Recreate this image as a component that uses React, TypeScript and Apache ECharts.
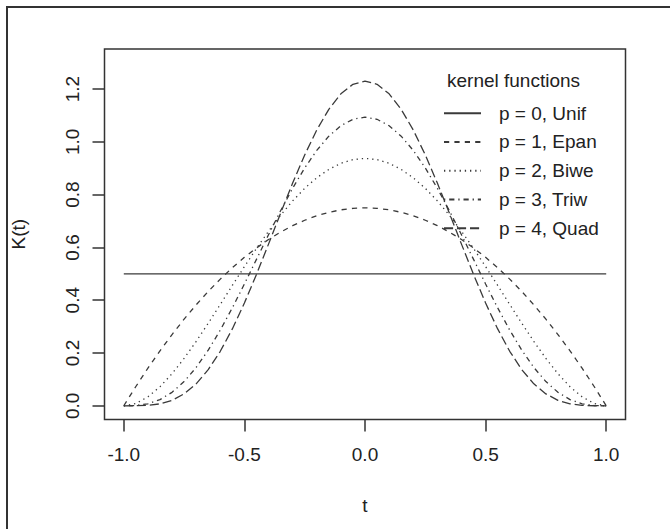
import React, { useEffect, useRef } from "react";
import * as echarts from "echarts";

// t grid (step 0.05 from -1 to 1)
const tValues = [
  -1, -0.95, -0.9, -0.85, -0.8, -0.75, -0.7, -0.65, -0.6, -0.55, -0.5,
  -0.45, -0.4, -0.35, -0.3, -0.25, -0.2, -0.15, -0.1, -0.05, 0,
  0.05, 0.1, 0.15, 0.2, 0.25, 0.3, 0.35, 0.4, 0.45, 0.5,
  0.55, 0.6, 0.65, 0.7, 0.75, 0.8, 0.85, 0.9, 0.95, 1,
];

// p = 0, uniform kernel (constant)
const unifT = [-1, 1];
const unifK = [0.5, 0.5];

// p = 1, Epanechnikov
const epanK = [
  0, 0.0731, 0.1425, 0.2081, 0.27, 0.3281, 0.3825, 0.4331, 0.48, 0.5231, 0.5625,
  0.5981, 0.63, 0.6581, 0.6825, 0.7031, 0.72, 0.7331, 0.7425, 0.7481, 0.75,
  0.7481, 0.7425, 0.7331, 0.72, 0.7031, 0.6825, 0.6581, 0.63, 0.5981, 0.5625,
  0.5231, 0.48, 0.4331, 0.3825, 0.3281, 0.27, 0.2081, 0.1425, 0.0731, 0,
];

// p = 2, biweight
const biweK = [
  0, 0.0089, 0.0338, 0.0722, 0.1215, 0.1794, 0.2438, 0.3127, 0.384, 0.4561, 0.5273,
  0.5963, 0.6615, 0.7219, 0.7763, 0.824, 0.864, 0.8958, 0.9188, 0.9328, 0.9375,
  0.9328, 0.9188, 0.8958, 0.864, 0.824, 0.7763, 0.7219, 0.6615, 0.5963, 0.5273,
  0.4561, 0.384, 0.3127, 0.2438, 0.1794, 0.1215, 0.0722, 0.0338, 0.0089, 0,
];

// p = 3, triweight
const triwK = [
  0, 0.001, 0.0075, 0.0234, 0.051, 0.0916, 0.1451, 0.2107, 0.2867, 0.3712, 0.4614,
  0.5548, 0.6483, 0.739, 0.8242, 0.9012, 0.9677, 1.0216, 1.0613, 1.0856, 1.0938,
  1.0856, 1.0613, 1.0216, 0.9677, 0.9012, 0.8242, 0.739, 0.6483, 0.5548, 0.4614,
  0.3712, 0.2867, 0.2107, 0.1451, 0.0916, 0.051, 0.0234, 0.0075, 0.001, 0,
];

// p = 4, quadweight
const quadK = [
  0, 0.0001, 0.0016, 0.0073, 0.0207, 0.0451, 0.0832, 0.1369, 0.2064, 0.2912, 0.3893,
  0.4977, 0.6126, 0.7296, 0.8438, 0.9505, 1.0451, 1.1234, 1.182, 1.2182, 1.2305,
  1.2182, 1.182, 1.1234, 1.0451, 0.9505, 0.8438, 0.7296, 0.6126, 0.4977, 0.3893,
  0.2912, 0.2064, 0.1369, 0.0832, 0.0451, 0.0207, 0.0073, 0.0016, 0.0001, 0,
];

const seriesNames = [
  "p = 0, Unif",
  "p = 1, Epan",
  "p = 2, Biwe",
  "p = 3, Triw",
  "p = 4, Quad",
];

const xTicks = [-1, -0.5, 0, 0.5, 1];
const yTicks = [0, 0.2, 0.4, 0.6, 0.8, 1.0, 1.2];

const FONT = "'Liberation Sans', Arial, sans-serif";
const INK = "#222";
const LINE = "#3a3a3a";

const zip = (xs: number[], ys: number[]) => xs.map((x, i) => [x, ys[i]]);

export default function App() {
  const ref = useRef<HTMLDivElement>(null);

  useEffect(() => {
    if (!ref.current) return;
    const chart = echarts.init(ref.current, undefined, { renderer: "svg" });

    const dashes: (number[] | "solid")[] = [
      "solid",
      [5.2, 5.2],
      [1.3, 3.9],
      [1.3, 3.9, 5.2, 3.9],
      [9.1, 3.9],
    ];
    const datas = [
      zip(unifT, unifK),
      zip(tValues, epanK),
      zip(tValues, biweK),
      zip(tValues, triwK),
      zip(tValues, quadK),
    ];

    chart.setOption({
      animation: false,
      backgroundColor: "#fff",
      textStyle: { fontFamily: FONT },
      grid: {
        left: 104.5,
        top: 49,
        width: 521,
        height: 370.5,
        show: true,
        borderColor: "#333",
        borderWidth: 1.5,
        backgroundColor: "transparent",
        containLabel: false,
      },
      title: {
        text: "kernel functions",
        left: 447,
        top: 70,
        padding: 0,
        textStyle: {
          fontFamily: FONT,
          fontSize: 19,
          fontWeight: "normal",
          color: INK,
          lineHeight: 21,
        },
      },
      legend: {
        orient: "vertical",
        left: 443,
        top: 103.7,
        padding: 0,
        itemWidth: 37,
        itemHeight: 14,
        itemGap: 9.75,
        selectedMode: false,
        data: seriesNames,
        itemStyle: { opacity: 0 },
        textStyle: {
          fontFamily: FONT,
          fontSize: 19,
          color: INK,
          lineHeight: 14,
          padding: [0, 0, 0, 13],
        },
      },
      xAxis: {
        type: "value",
        min: -1.08,
        max: 1.08,
        name: "t",
        nameLocation: "middle",
        nameGap: 76,
        nameTextStyle: { fontFamily: FONT, fontSize: 19, color: INK },
        axisLine: { show: false, onZero: false },
        splitLine: { show: false },
        axisTick: {
          show: true,
          length: 12,
          inside: false,
          customValues: xTicks,
          lineStyle: { color: "#333", width: 1.5 },
        },
        axisLabel: {
          customValues: xTicks,
          margin: 25,
          fontFamily: FONT,
          fontSize: 19,
          color: INK,
          formatter: (v: number) => v.toFixed(1),
        },
      },
      yAxis: {
        type: "value",
        min: -0.052,
        max: 1.352,
        name: "K(t)",
        nameLocation: "middle",
        nameGap: 77,
        nameTextStyle: { fontFamily: FONT, fontSize: 19, color: INK },
        axisLine: { show: false, onZero: false },
        splitLine: { show: false },
        axisTick: {
          show: true,
          length: 12,
          inside: false,
          customValues: yTicks,
          lineStyle: { color: "#333", width: 1.5 },
        },
        axisLabel: {
          customValues: yTicks,
          rotate: 90,
          margin: 23,
          fontFamily: FONT,
          fontSize: 19,
          color: INK,
          formatter: (v: number) => v.toFixed(1),
        },
      },
      graphic: [
        {
          type: "rect",
          shape: { x: 7, y: 7, width: 700, height: 600 },
          style: { fill: "none", stroke: "#333", lineWidth: 2 },
          silent: true,
        },
      ],
      series: seriesNames.map((name, i) => ({
        name,
        type: "line",
        data: datas[i],
        symbol: "none",
        showSymbol: false,
        smooth: false,
        silent: true,
        color: LINE,
        lineStyle: { color: LINE, width: 1.3, type: dashes[i] },
      })),
    });

    return () => chart.dispose();
  }, []);

  return (
    <div
      ref={ref}
      style={{ position: "fixed", left: 0, top: 0, width: 670, height: 529 }}
    />
  );
}
